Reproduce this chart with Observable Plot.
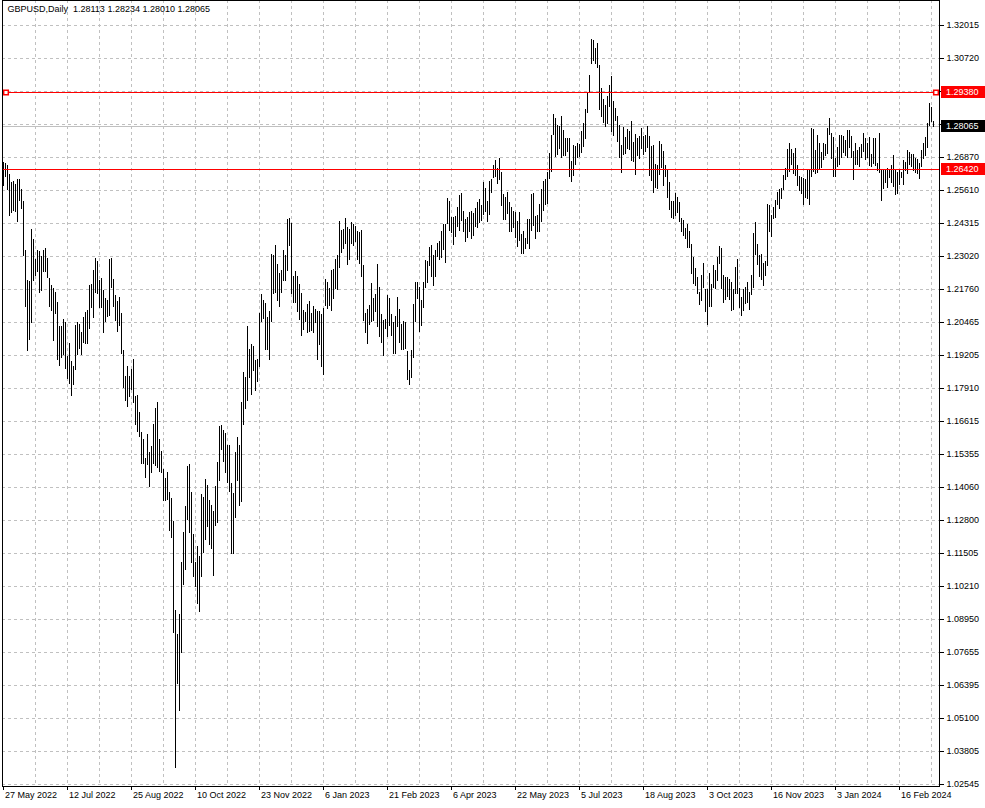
<!DOCTYPE html>
<html><head><meta charset="utf-8">
<script src="https://cdn.jsdelivr.net/npm/d3@7"></script>
<script src="https://cdn.jsdelivr.net/npm/@observablehq/plot@0.6"></script>
<style>
html,body{margin:0;padding:0;background:#fff;}
#chart svg{display:block;}
</style></head><body><div id="chart"></div>
<script>
// ---- data ----
const symbol = "GBPUSD";
const timeframe = "Daily";
const lastOpen = 1.28113;
const lastClose = 1.28065;

const highs = [
1.2668,1.2665,1.2657,1.2622,1.2592,1.2596,1.2583,1.2603,1.2603,1.2564,
1.2519,1.2324,1.2210,1.2205,1.2408,1.2369,1.2292,1.2327,1.2320,1.2302,
1.2324,1.2334,1.2294,1.2218,1.2190,1.2181,1.2166,1.2125,1.2030,1.2032,
1.2058,1.2045,1.1918,1.1967,1.1896,1.1877,1.2036,1.2045,1.2039,1.2009,
1.2067,1.2087,1.2093,1.2190,1.2194,1.2249,1.2294,1.2282,1.2210,1.2218,
1.2172,1.2139,1.2132,1.2290,1.2293,1.2216,1.2152,1.2130,1.2146,1.2081,
1.1938,1.1840,1.1879,1.1840,1.1866,1.1903,1.1760,1.1762,1.1695,1.1621,
1.1591,1.1520,1.1611,1.1542,1.1565,1.1650,1.1714,1.1738,1.1591,1.1548,
1.1477,1.1442,1.1464,1.1386,1.1364,1.1276,1.0930,1.0836,1.0914,1.1115,
1.1232,1.1334,1.1490,1.1498,1.1386,1.1224,1.1114,1.1179,1.1137,1.1381,
1.1367,1.1439,1.1413,1.1358,1.1338,1.1315,1.1410,1.1503,1.1643,1.1646,
1.1627,1.1615,1.1568,1.1568,1.1423,1.1384,1.1543,1.1600,1.1568,1.1736,
1.1854,1.1834,1.2032,1.1945,1.1961,1.1954,1.1899,1.1906,1.2081,1.2155,
1.2133,1.2120,1.2068,1.2090,1.2311,1.2305,1.2346,1.2272,1.2237,1.2249,
1.2327,1.2305,1.2447,1.2451,1.2432,1.2224,1.2246,1.2224,1.2194,1.2159,
1.2093,1.2084,1.2116,1.2129,1.2081,1.2110,1.2097,1.2088,1.2088,1.2078,
1.2101,1.2214,1.2201,1.2181,1.2249,1.2253,1.2292,1.2305,1.2438,1.2404,
1.2408,1.2450,1.2417,1.2408,1.2434,1.2428,1.2421,1.2399,1.2395,1.2404,
1.2268,1.2080,1.2097,1.2113,1.2198,1.2142,1.2155,1.2272,1.2185,1.2078,
1.2056,1.2058,1.2152,1.2140,1.2078,1.2048,1.2071,1.2146,1.2097,1.2040,
1.2049,1.2048,1.1937,1.1863,1.1941,1.2116,1.2201,1.2203,1.2184,1.2132,
1.2201,1.2285,1.2282,1.2337,1.2346,1.2305,1.2327,1.2352,1.2360,1.2399,
1.2428,1.2428,1.2528,1.2516,1.2454,1.2457,1.2460,1.2496,1.2540,1.2551,
1.2480,1.2447,1.2456,1.2476,1.2480,1.2471,1.2490,1.2512,1.2525,1.2503,
1.2590,1.2570,1.2518,1.2596,1.2603,1.2657,1.2674,1.2644,1.2683,1.2630,
1.2544,1.2535,1.2553,1.2512,1.2496,1.2479,1.2473,1.2441,1.2476,1.2389,
1.2402,1.2373,1.2447,1.2447,1.2544,1.2548,1.2460,1.2463,1.2505,1.2564,
1.2596,1.2603,1.2631,1.2704,1.2771,1.2852,1.2836,1.2810,1.2806,1.2843,
1.2791,1.2761,1.2761,1.2761,1.2670,1.2732,1.2728,1.2741,1.2735,1.2787,
1.2817,1.2871,1.2940,1.3005,1.3147,1.3143,1.3112,1.3132,1.3046,1.2955,
1.2911,1.2888,1.2924,1.2966,1.3001,1.2904,1.2875,1.2843,1.2810,1.2732,
1.2800,1.2762,1.2795,1.2787,1.2826,1.2745,1.2774,1.2761,1.2769,1.2797,
1.2769,1.2771,1.2806,1.2769,1.2730,1.2732,1.2659,1.2655,1.2749,1.2735,
1.2709,1.2657,1.2638,1.2590,1.2516,1.2518,1.2551,1.2534,1.2512,1.2450,
1.2445,1.2411,1.2428,1.2399,1.2350,1.2298,1.2256,1.2220,1.2166,1.2229,
1.2277,1.2175,1.2177,1.2237,1.2197,1.2266,1.2249,1.2298,1.2343,1.2334,
1.2231,1.2223,1.2220,1.2214,1.2201,1.2177,1.2259,1.2291,1.2181,1.2145,
1.2175,1.2185,1.2201,1.2166,1.2229,1.2391,1.2434,1.2350,1.2304,1.2311,
1.2276,1.2282,1.2508,1.2502,1.2463,1.2493,1.2522,1.2553,1.2566,1.2570,
1.2618,1.2644,1.2717,1.2739,1.2719,1.2704,1.2723,1.2655,1.2616,1.2612,
1.2607,1.2603,1.2638,1.2642,1.2797,1.2793,1.2713,1.2771,1.2739,1.2706,
1.2741,1.2735,1.2797,1.2836,1.2778,1.2765,1.2685,1.2726,1.2771,1.2771,
1.2767,1.2752,1.2791,1.2791,1.2767,1.2709,1.2741,1.2713,1.2726,1.2736,
1.2778,1.2758,1.2739,1.2765,1.2700,1.2758,1.2758,1.2664,1.2778,1.2642,
1.2642,1.2642,1.2644,1.2642,1.2657,1.2694,1.2638,1.2629,1.2638,1.2631,
1.2674,1.2668,1.2713,1.2706,1.2700,1.2697,1.2684,1.2681,1.2665,1.2713,
1.2739,1.2762,1.2817,1.2897,1.2878,1.28234
];

const lows = [
1.2577,1.2609,1.2561,1.2460,1.2470,1.2480,1.2476,1.2434,1.2516,1.2486,
1.2302,1.2107,1.1935,1.1978,1.2041,1.2207,1.2227,1.2240,1.2162,1.2168,
1.2242,1.2240,1.2218,1.2107,1.2091,1.1974,1.2078,1.1900,1.1876,1.1909,
1.1922,1.1866,1.1827,1.1805,1.1760,1.1801,1.1861,1.1922,1.1944,1.1922,
1.1965,1.1961,1.1961,1.2019,1.2103,1.2062,1.2159,1.2155,1.2100,1.2100,
1.2006,1.2048,1.2065,1.2069,1.2180,1.2104,1.2052,1.2009,1.2030,1.1926,
1.1792,1.1740,1.1718,1.1756,1.1783,1.1734,1.1647,1.1620,1.1600,1.1498,
1.1496,1.1442,1.1491,1.1406,1.1462,1.1498,1.1488,1.1481,1.1465,1.1462,
1.1351,1.1354,1.1355,1.1235,1.1211,1.0839,1.0314,1.0645,1.0538,1.0761,
1.1024,1.1083,1.1280,1.1228,1.1111,1.1057,1.1017,1.0952,1.0921,1.1056,
1.1150,1.1202,1.1254,1.1183,1.1167,1.1059,1.1258,1.1270,1.1429,1.1550,
1.1503,1.1459,1.1423,1.1386,1.1148,1.1146,1.1289,1.1429,1.1332,1.1347,
1.1646,1.1708,1.1740,1.1829,1.1764,1.1857,1.1779,1.1814,1.1873,1.2045,
1.2058,1.1939,1.1939,1.1900,1.2048,1.2158,1.2159,1.2129,1.2106,1.2162,
1.2205,1.2207,1.2246,1.2343,1.2155,1.2120,1.2123,1.2087,1.2056,1.1993,
1.2017,1.2048,1.2006,1.2009,1.2013,1.2004,1.2041,1.1900,1.1958,1.1874,
1.1842,1.2110,1.2097,1.2110,1.2088,1.2136,1.2175,1.2172,1.2255,1.2314,
1.2330,1.2350,1.2268,1.2285,1.2350,1.2343,1.2356,1.2285,1.2272,1.2223,
1.2049,1.2006,1.1963,1.2036,1.2045,1.2052,1.2087,1.2026,1.1991,1.1967,
1.1918,1.2019,1.1989,1.2032,1.1993,1.1926,1.1925,1.2026,1.1967,1.1940,
1.1940,1.1944,1.1822,1.1803,1.1831,1.1909,1.2048,1.2138,1.2009,1.2030,
1.2103,1.2181,1.2198,1.2262,1.2223,1.2188,1.2220,1.2298,1.2285,1.2295,
1.2324,1.2275,1.2428,1.2402,1.2391,1.2347,1.2376,1.2417,1.2402,1.2441,
1.2398,1.2356,1.2372,1.2395,1.2369,1.2382,1.2415,1.2411,1.2432,1.2441,
1.2463,1.2476,1.2437,1.2463,1.2551,1.2605,1.2612,1.2583,1.2599,1.2499,
1.2444,1.2444,1.2466,1.2395,1.2395,1.2411,1.2373,1.2337,1.2360,1.2308,
1.2308,1.2330,1.2350,1.2330,1.2402,1.2421,1.2369,1.2395,1.2395,1.2434,
1.2479,1.2502,1.2505,1.2603,1.2629,1.2771,1.2687,1.2693,1.2717,1.2684,
1.2691,1.2691,1.2706,1.2609,1.2592,1.2616,1.2657,1.2683,1.2687,1.2704,
1.2726,1.2756,1.2856,1.2937,1.3050,1.3061,1.3050,1.3033,1.2869,1.2840,
1.2817,1.2800,1.2813,1.2878,1.2784,1.2767,1.2823,1.2745,1.2683,1.2625,
1.2694,1.2700,1.2717,1.2713,1.2671,1.2668,1.2620,1.2690,1.2681,1.2716,
1.2694,1.2707,1.2722,1.2616,1.2596,1.2551,1.2570,1.2564,1.2618,1.2644,
1.2577,1.2609,1.2531,1.2482,1.2450,1.2447,1.2460,1.2469,1.2437,1.2398,
1.2380,1.2369,1.2334,1.2333,1.2233,1.2194,1.2188,1.2155,1.2112,1.2130,
1.2180,1.2084,1.2036,1.2107,1.2107,1.2181,1.2175,1.2205,1.2272,1.2175,
1.2123,1.2133,1.2146,1.2133,1.2090,1.2094,1.2158,1.2155,1.2103,1.2071,
1.2088,1.2116,1.2123,1.2094,1.2151,1.2181,1.2304,1.2266,1.2220,1.2211,
1.2188,1.2227,1.2262,1.2395,1.2376,1.2447,1.2451,1.2502,1.2486,1.2525,
1.2561,1.2599,1.2609,1.2631,1.2655,1.2622,1.2616,1.2577,1.2557,1.2546,
1.2504,1.2531,1.2525,1.2503,1.2612,1.2631,1.2622,1.2626,1.2638,1.2644,
1.2674,1.2690,1.2697,1.2771,1.2681,1.2612,1.2612,1.2648,1.2655,1.2684,
1.2703,1.2690,1.2684,1.2723,1.2684,1.2599,1.2655,1.2655,1.2648,1.2684,
1.2707,1.2674,1.2684,1.2651,1.2648,1.2659,1.2651,1.2633,1.2625,1.2519,
1.2564,1.2587,1.2570,1.2607,1.2586,1.2573,1.2542,1.2547,1.2581,1.2607,
1.2581,1.2633,1.2622,1.2655,1.2648,1.2635,1.2625,1.2622,1.2603,1.2648,
1.2681,1.2690,1.2720,1.2804,1.2819,1.28010
];

const priceTicks = [1.32015,1.30720,1.29425,1.28130,1.26870,1.25610,1.24315,1.23020,1.21760,1.20465,1.19205,1.17910,
  1.16615,1.15355,1.14060,1.12800,1.11505,1.10210,1.08950,1.07655,1.06395,1.05100,1.03805,1.02545];
const coveredTicks = [1.29425, 1.28130];
const dateLabels = ["27 May 2022","12 Jul 2022","25 Aug 2022","10 Oct 2022","23 Nov 2022","6 Jan 2023","21 Feb 2023",
  "6 Apr 2023","22 May 2023","5 Jul 2023","18 Aug 2023","3 Oct 2023","16 Nov 2023","3 Jan 2024","16 Feb 2024"];
const dateBars = [0,32,64,96,128,160,192,224,256,288,320,352,384,416,448];
const levelLines = [1.29380, 1.26420];
const bidPrice = 1.28065;

// ---- build ----
const n = highs.length;
const bars = highs.map((h, i) => ({i, high: h, low: lows[i]}));
const gridBars = d3.range(16, n, 16);
const gridRows = priceTicks.map((_, k) => 25 + 33 * k);
const fmt = v => v.toFixed(5);
const title = `${symbol},${timeframe}\u00a0 ${fmt(lastOpen)} ${fmt(highs[n-1])} ${fmt(lows[n-1])} ${fmt(lastClose)}`;
const gridStyle = {stroke: "#c0c0c0", strokeOpacity: 1, strokeDasharray: "3,3"};
const font = "'Liberation Sans', Arial, sans-serif";

const chart = Plot.plot({
  width: 985, height: 808,
  marginLeft: 2, marginRight: 46, marginTop: 0, marginBottom: 22,
  style: {background: "#ffffff", color: "#000000", fontFamily: font, fontSize: "9px", overflow: "visible"},
  x: {type: "linear", domain: [0, n - 1], range: [3, 3 + 2 * (n - 1)], ticks: dateBars, tickSize: 4, tickFormat: () => "", label: null},
  y: {type: "linear", domain: priceTicks, range: gridRows, round: true, axis: "right", ticks: priceTicks, tickSize: 4, tickPadding: 3,
      tickFormat: d => coveredTicks.includes(d) ? "" : fmt(d), label: null},
  marks: [
    Plot.ruleY(priceTicks, gridStyle),
    Plot.ruleX(gridBars, gridStyle),
    Plot.ruleY([bidPrice], {stroke: "#c0c0c0"}),
    Plot.ruleX(bars, {x: "i", y1: "low", y2: "high", stroke: "#000000", strokeWidth: 1}),
    Plot.ruleY(levelLines, {stroke: "#ff0000"}),
    Plot.dot([levelLines[0]], {y: d => d, frameAnchor: "left", dx: 3.5, symbol: "square", r: 2.6, fill: "#ffffff", stroke: "#ff0000"}),
    Plot.dot([levelLines[0]], {y: d => d, frameAnchor: "right", dx: -3.5, symbol: "square", r: 2.6, fill: "#ffffff", stroke: "#ff0000"}),
    Plot.frame({stroke: "#000000"}),
    Plot.text([title], {frameAnchor: "top-left", dx: 5, dy: 5, fill: "#000000"}),
    Plot.text(dateLabels, {x: (d, k) => dateBars[k], text: d => d, frameAnchor: "bottom", dy: 11, dx: 1.5, textAnchor: "start", fill: "#000000"})
  ]
});
document.getElementById("chart").appendChild(chart);

// price boxes on the right axis, placed through the chart's own y scale
const ys = chart.scale("y");
const boxes = [
  {price: levelLines[0], color: "#ff0000"},
  {price: bidPrice, color: "#000000"},
  {price: levelLines[1], color: "#ff0000"}
];
const g = d3.select(chart).append("g").attr("text-anchor", "start");
for (const b of boxes) {
  const yy = Math.round(ys.apply(b.price));
  g.append("rect").attr("x", 941).attr("y", yy - 6).attr("width", 44).attr("height", 12).attr("fill", b.color);
  g.append("text").attr("x", 946).attr("y", yy).attr("dy", "0.32em").attr("fill", "#ffffff").attr("text-anchor", "start")
    .attr("font-family", font).attr("font-size", 9).text(fmt(b.price));
}
</script>
</body></html>
